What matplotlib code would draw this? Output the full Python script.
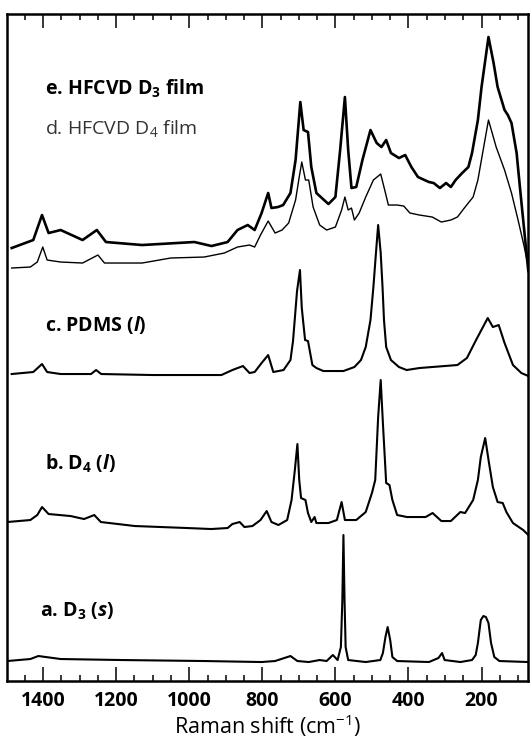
import matplotlib
matplotlib.use("Agg")
import matplotlib.pyplot as plt
from matplotlib.ticker import MultipleLocator

plt.rcParams['font.family'] = ['Open Sans', 'DejaVu Sans']
plt.rcParams['mathtext.fontset'] = 'custom'
plt.rcParams['mathtext.rm'] = 'Open Sans'
plt.rcParams['mathtext.bf'] = 'Open Sans:bold'
plt.rcParams['mathtext.it'] = 'Open Sans:bold:italic'

# Raman spectra (shift in cm-1, intensity in arbitrary units)
e_shift = [1486, 1427, 1403, 1385, 1352, 1292, 1253, 1228, 1129, 986, 939, 895, 868, 840,
           821, 802, 784, 775, 757, 743, 723, 709, 696, 687, 675, 666, 652, 619, 600, 587,
           574, 565, 556, 543, 526, 504, 487, 474, 461, 448, 426, 409, 392, 374, 344, 331,
           314, 297, 284, 271, 253, 236, 226, 210, 200, 181, 167, 156, 137, 128, 118, 104,
           95, 86, 77, 72]
e_int = [-5, 3, 28, 10, 13, 3, 13, 1, -2, 1, -3, 1, 13, 18,
         13, 30, 50, 35, 36, 38, 50, 83, 141, 113, 111, 76, 50, 39, 46, 93,
         146, 93, 55, 56, 83, 113, 100, 96, 103, 90, 85, 88, 76, 66, 61, 60,
         55, 60, 56, 63, 70, 76, 90, 123, 156, 206, 180, 156, 133, 128, 120, 90,
         56, 23, -10, -28]

d_shift = [1486, 1435, 1416, 1401, 1389, 1352, 1292, 1250, 1232, 1129, 1051, 959, 904, 868,
           835, 821, 805, 784, 765, 746, 728, 709, 699, 692, 682, 673, 661, 643, 624, 600,
           583, 574, 565, 556, 548, 535, 517, 496, 476, 465, 455, 431, 413, 396, 370, 335,
           310, 284, 266, 245, 223, 210, 197, 181, 160, 137, 118, 100, 83, 72]
d_int = [-5, -4, 1, 16, 3, 1, 0, 8, 0, 0, 5, 6, 10, 16,
         18, 16, 28, 42, 30, 33, 40, 63, 86, 101, 83, 83, 56, 38, 33, 36,
         53, 66, 53, 55, 43, 50, 66, 83, 89, 73, 58, 58, 57, 50, 48, 46,
         41, 43, 46, 56, 66, 83, 110, 143, 116, 93, 70, 43, 16, -4]

c_shift = [1486, 1427, 1403, 1389, 1352, 1269, 1255, 1241, 1100, 912, 882, 853, 835, 821,
           802, 784, 770, 742, 723, 716, 705, 697, 692, 683, 675, 663, 652, 633, 578, 548,
           530, 517, 504, 496, 489, 483, 476, 471, 467, 461, 448, 426, 405, 370, 266, 240,
           215, 183, 169, 153, 137, 114, 91, 72]
c_int = [0, 2, 10, 2, 0, 0, 4, 0, -1, -1, 4, 8, 1, 2,
         11, 19, 2, 4, 14, 33, 83, 104, 66, 34, 33, 9, 6, 3, 3, 7,
         14, 27, 54, 87, 121, 149, 121, 87, 54, 27, 14, 7, 4, 6, 9, 16,
         34, 56, 47, 49, 31, 9, 1, -2]

b_shift = [1498, 1435, 1416, 1403, 1385, 1325, 1288, 1260, 1242, 1149, 1006, 940, 895, 882,
           862, 849, 827, 805, 788, 775, 756, 732, 720, 711, 704, 699, 694, 682, 675, 666,
           657, 652, 619, 596, 583, 574, 543, 517, 500, 491, 483, 476, 470, 461, 452, 444,
           431, 404, 353, 334, 310, 284, 258, 245, 223, 210, 202, 190, 180, 169, 156, 142,
           132, 114, 86, 72]
b_int = [0, 2, 7, 15, 8, 6, 3, 7, 0, -4, -6, -7, -6, -2,
         0, -5, -4, 2, 11, 0, -3, 2, 22, 52, 78, 42, 24, 22, 9, 0,
         5, -1, -1, 2, 20, 2, 2, 10, 29, 42, 105, 142, 99, 39, 37, 22,
         7, 5, 5, 9, 1, 1, 10, 9, 22, 42, 65, 84, 60, 35, 20, 19,
         10, -1, -8, -13]

a_shift = [1498, 1435, 1413, 1352, 1186, 959, 802, 765, 723, 704, 673, 643, 624, 607,
           594, 585, 581, 578, 575, 572, 565, 517, 477, 470, 463, 457, 450, 444, 431, 344,
           318, 308, 301, 258, 226, 216, 210, 202, 195, 188, 181, 174, 165, 151, 72]
a_int = [0, 2, 5, 2, 1, 0, -1, 0, 5, 0, -1, 1, 0, 6,
         1, 14, 61, 126, 61, 14, 1, -1, 1, 8, 24, 34, 21, 4, 0, -1,
         3, 8, 1, -1, 1, 6, 18, 41, 45, 44, 38, 18, 4, 0, -1]

# vertical stacking offsets for each trace
offsets = {'a': 20, 'b': 159, 'c': 307, 'd': 418, 'e': 438}

fig = plt.figure(figsize=(5.3, 7.38), dpi=100)
ax = fig.add_axes([0.0138, 0.0772, 0.983, 0.9038])

ax.plot(a_shift, [v + offsets['a'] for v in a_int], color='black', lw=1.5)
ax.plot(b_shift, [v + offsets['b'] for v in b_int], color='black', lw=1.5)
ax.plot(c_shift, [v + offsets['c'] for v in c_int], color='black', lw=1.5)
ax.plot(d_shift, [v + offsets['d'] for v in d_int], color='black', lw=1.0)
ax.plot(e_shift, [v + offsets['e'] for v in e_int], color='black', lw=1.9)

ax.set_xlim(1498, 72)
ax.set_ylim(0, 667)

ax.xaxis.set_major_locator(MultipleLocator(200))
ax.xaxis.set_minor_locator(MultipleLocator(50))
ax.set_yticks([])
ax.tick_params(axis='x', which='both', direction='in', top=True, bottom=True, width=1.1)
ax.tick_params(axis='x', which='major', length=10, pad=7)
ax.tick_params(axis='x', which='minor', length=4.5)
for lbl in ax.get_xticklabels():
    lbl.set_fontweight('bold')
    lbl.set_fontsize(14)
for s in ax.spines.values():
    s.set_linewidth(1.8)

ax.set_xlabel('Raman shift (cm$^{\\mathregular{-1}}$)', fontsize=15.5, labelpad=1)

# trace labels
lab_size = 14
ax.text(0.0724, 0.8786, 'e. HFCVD $\\mathbf{D}_\\mathbf{3}$ film', transform=ax.transAxes,
        fontsize=lab_size, fontweight='bold', va='baseline')
ax.text(0.0724, 0.8186, 'd. HFCVD D$_\\mathrm{4}$ film', transform=ax.transAxes,
        fontsize=lab_size, color='#333333', va='baseline')
ax.text(0.0724, 0.5252, 'c. PDMS ($l$)', transform=ax.transAxes,
        fontsize=lab_size, fontweight='bold', va='baseline')
ax.text(0.0724, 0.3163, 'b. $\\mathbf{D}_\\mathbf{4}$ ($l$)', transform=ax.transAxes,
        fontsize=lab_size, fontweight='bold', va='baseline')
ax.text(0.0628, 0.0964, 'a. $\\mathbf{D}_\\mathbf{3}$ ($s$)', transform=ax.transAxes,
        fontsize=lab_size, fontweight='bold', va='baseline')

fig.savefig('out.png', dpi=100)
